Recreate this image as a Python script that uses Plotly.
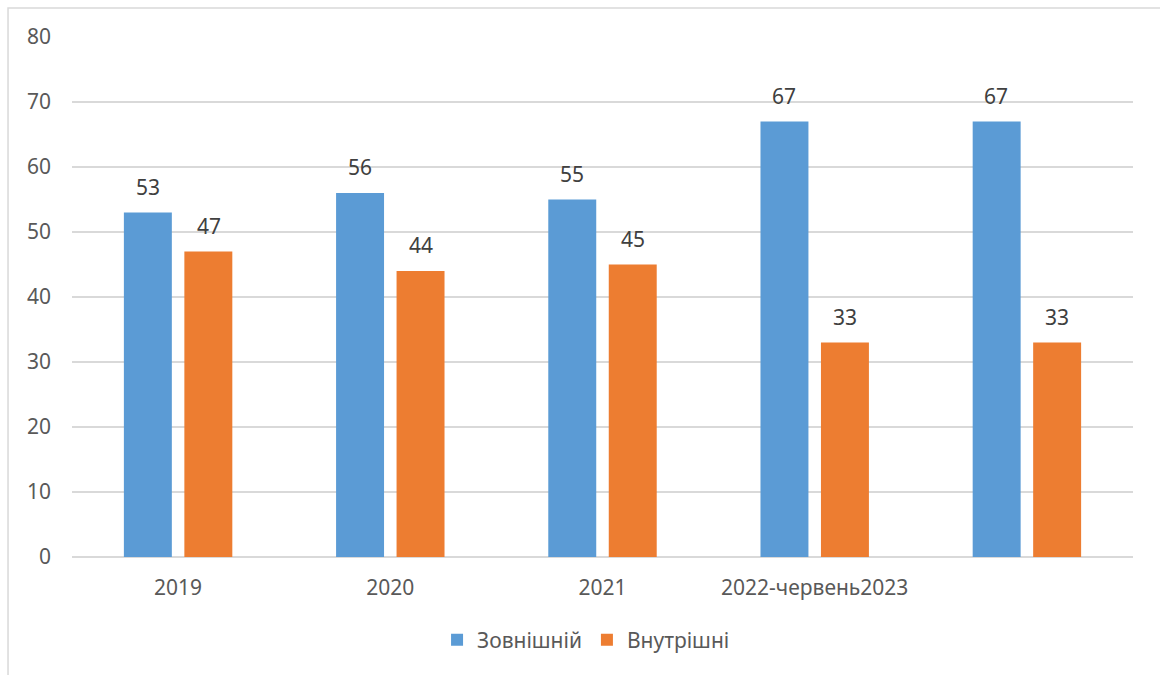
import plotly.graph_objects as go

categories = ["2019", "2020", "2021", "2022-червень2023", ""]
external = [53, 56, 55, 67, 67]
internal = [47, 44, 45, 33, 33]
series_names = ["Зовнішній", "Внутрішні"]
y_ticks = [0, 10, 20, 30, 40, 50, 60, 70, 80]

BLUE = "#5B9BD5"
ORANGE = "#ED7D31"
FONT = "Noto Sans"
FS = 21

xs = list(range(len(categories)))

fig = go.Figure()
fig.add_trace(go.Bar(x=xs, y=external, name=series_names[0], marker=dict(color=BLUE, line=dict(width=0))))
fig.add_trace(go.Bar(x=xs, y=internal, name=series_names[1], marker=dict(color=ORANGE, line=dict(width=0))))

# value labels above bars
annotations = []
for i in xs:
    for vals, shift in ((external, -30.5), (internal, 30.5)):
        annotations.append(dict(
            x=i, y=vals[i], xref="x", yref="y", text=str(vals[i]), showarrow=False,
            xshift=shift, yshift=10, yanchor="bottom",
            font=dict(family=FONT, size=FS, color="#404040")))

fig.update_layout(
    width=1160, height=675,
    margin=dict(l=72, r=27, t=37, b=118),
    paper_bgcolor="white", plot_bgcolor="white",
    barmode="group", bargap=0.43, bargroupgap=0.207,
    font=dict(family=FONT, size=FS, color="#595959"),
    showlegend=True,
    legend=dict(orientation="h", x=0.4845, xanchor="center", y=-0.16, yanchor="middle",
                font=dict(family=FONT, size=FS, color="#595959"), itemwidth=30,
                traceorder="normal"),
    annotations=annotations,
    shapes=[dict(type="rect", xref="paper", yref="paper",
                 x0=-0.0603, x1=1.1, y0=-0.4, y1=1.0558,
                 line=dict(color="#d9d9d9", width=1.5), fillcolor="rgba(0,0,0,0)", layer="below")],
)
fig.update_xaxes(
    tickmode="array", tickvals=xs, ticktext=categories, range=[-0.5, len(categories) - 0.5],
    showgrid=False, showline=False, zeroline=False, ticks="", ticklabelstandoff=16,
    tickfont=dict(family=FONT, size=FS, color="#595959"))
fig.update_yaxes(
    range=[0, 80], tickvals=y_ticks, showgrid=True, gridcolor="#d9d9d9", gridwidth=1.5,
    zeroline=True, zerolinecolor="#d9d9d9", zerolinewidth=1.5, showline=False, ticks="",
    ticklabelstandoff=20, tickfont=dict(family=FONT, size=FS, color="#595959"))

fig.write_html("out.html")
